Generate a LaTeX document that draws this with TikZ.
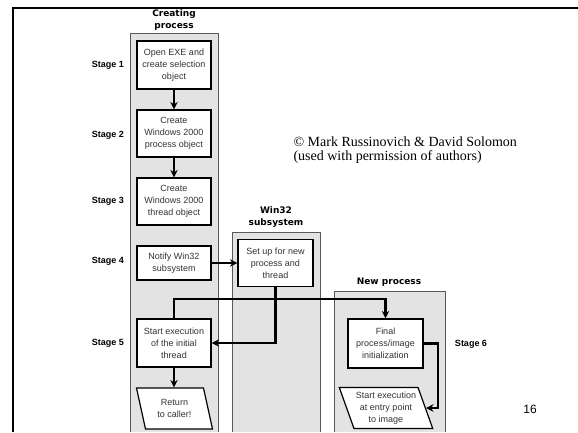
\documentclass[tikz,border=0pt]{standalone}
\usepackage{fontspec}
\setmainfont{Liberation Sans}
\newfontfamily\creditfont{Liberation Serif}
\newfontfamily\titlefont{DejaVu Sans}
\usetikzlibrary{arrows.meta}
\usetikzlibrary{shapes.geometric}

\definecolor{lanegray}{gray}{0.89}
\definecolor{lanedraw}{gray}{0.35}
\definecolor{boxtext}{gray}{0.2}

\begin{document}
\begin{tikzpicture}[x=1pt, y=-1pt,
	lane/.style={fill=lanegray, draw=lanedraw, line width=1pt},
	procbox/.style={draw=black, fill=white, line width=1.2pt, minimum width=74pt, align=center, inner sep=2pt, font=\fontsize{9}{12}\selectfont, text=boxtext},
	iobox/.style={procbox, trapezium, trapezium left angle=112, trapezium right angle=68, trapezium stretches body},
	flow/.style={line width=2.2pt, -{Stealth[length=7.5pt, width=7.5pt]}},
	stagelabel/.style={font=\bfseries\fontsize{9}{10}\selectfont},
	lanetitle/.style={font=\titlefont\bfseries\fontsize{9}{12}\selectfont, align=center}]

	\useasboundingbox (0,0) rectangle (578,432);

	%slide frame
	\draw[line width=2.2pt] (13,432) -- (13,8) -- (578,8);

	%lanes
	\filldraw[lane] (130,432) -- (130,33) -- (218,33) -- (218,432);
	\filldraw[lane] (232,432) -- (232,232) -- (320,232) -- (320,432);
	\filldraw[lane] (334,432) -- (334,291) -- (445,291) -- (445,432);

	%lane titles
	\node[lanetitle] (createtitle) at (174,20) {Creating\\process};
	\node[lanetitle] (wintitle) at (276,217) {Win32\\subsystem};
	\node[lanetitle] (newtitle) at (389,282) {New process};

	%creating process
	\node[procbox, minimum height=48pt] (open) at (174,65) {Open EXE and\\create selection\\object};
	\node[procbox, minimum height=47pt] (proc) at (174,133.5) {Create\\Windows 2000\\process object};
	\node[procbox, minimum height=47pt] (thread) at (174,201.5) {Create\\Windows 2000\\thread object};
	\node[procbox, minimum height=34pt] (notify) at (174,263) {Notify Win32\\subsystem};
	\node[procbox, minimum height=48pt] (start) at (174,343) {Start execution\\of the initial\\thread};
	\node[iobox, minimum width=76pt, minimum height=41pt] (ret) at (174.5,408.5) {Return\\to caller!};

	%win32 subsystem
	\node[procbox, minimum width=75pt, minimum height=47pt] (setup) at (275.5,263) {Set up for new\\process and\\thread};

	%new process
	\node[procbox, minimum width=75pt, minimum height=49pt] (final) at (385.5,343.5) {Final\\process/image\\initialization};
	\node[iobox, minimum width=90pt, minimum height=41pt] (entry) at (386,408) {Start execution\\at entry point\\to image};

	%stage labels
	\node[stagelabel] (st1) at (108,65) {Stage 1};
	\node[stagelabel] (st2) at (108,135) {Stage 2};
	\node[stagelabel] (st3) at (108,201) {Stage 3};
	\node[stagelabel] (st4) at (108,261) {Stage 4};
	\node[stagelabel] (st5) at (108,343) {Stage 5};
	\node[stagelabel] (st6) at (471,344) {Stage 6};

	%flow
	\coordinate (turn) at (174,299);
	\coordinate (elbow) at (438,343.5);
	\draw[flow] (open) -- (proc);
	\draw[flow] (proc) -- (thread);
	\draw[flow] (notify) -- (setup);
	\draw[flow] (setup.south) |- (start.east);
	\draw[flow] (start.north) -- (turn) -| (final.north);
	\draw[flow] (final.east) -- (elbow) |- (entry.east);
	\draw[flow] (start.south) -- (start.south |- ret.north);

	%credit and page number
	\node[anchor=west, align=left, font=\creditfont\fontsize{14}{14.5}\selectfont] (credit) at (290,150) {\textcopyright{} Mark Russinovich \& David Solomon\\(used with permission of authors)};
	\node[font=\fontsize{12}{14}\selectfont] (pagenum) at (530,409) {16};
\end{tikzpicture}
\end{document}
